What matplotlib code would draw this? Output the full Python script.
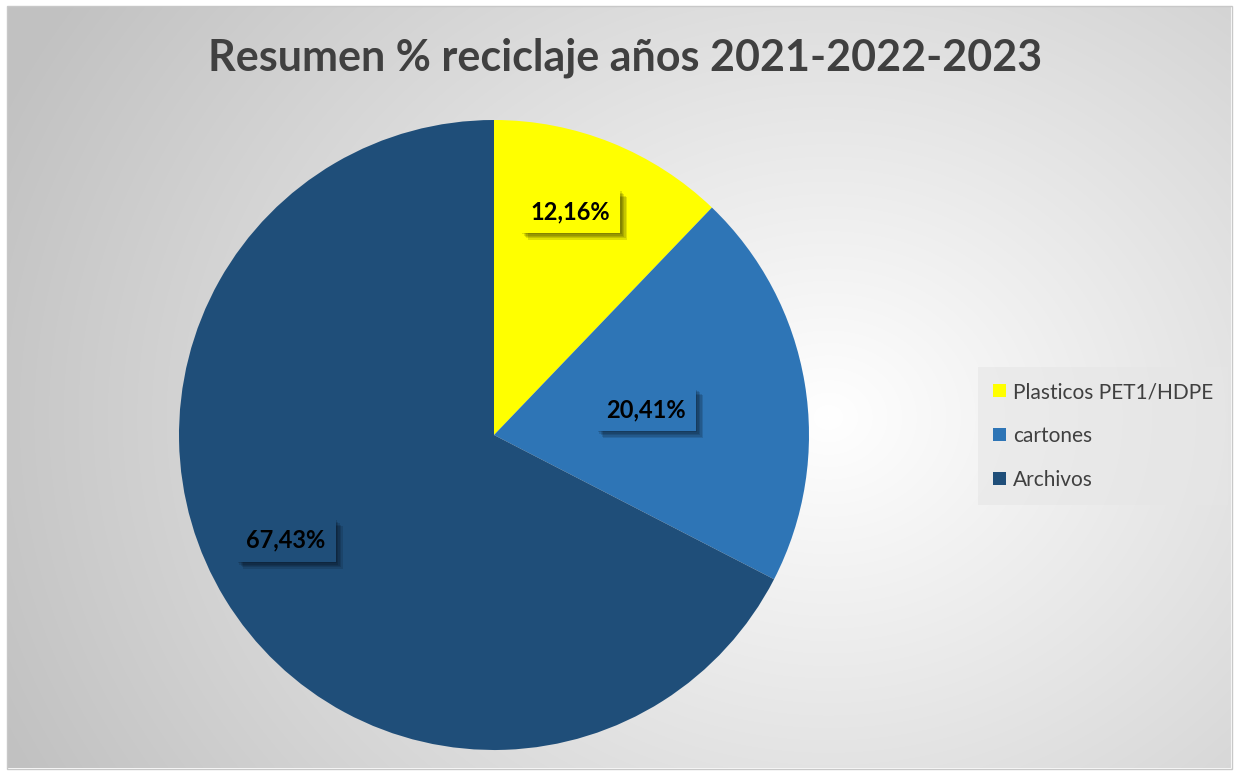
import numpy as np
import matplotlib.pyplot as plt
import matplotlib.patheffects as pe
from matplotlib.patches import Rectangle

# data
categories = ["Plasticos PET1/HDPE", "cartones", "Archivos"]
shares = [12.16, 20.41, 67.43]
labels = ["12,16%", "20,41%", "67,43%"]
colors = ["#FFFF00", "#2E75B6", "#1F4E79"]

W, H = 1238, 775
fig = plt.figure(figsize=(W / 100, H / 100), dpi=100)
fig.patch.set_facecolor("white")

# radial gradient background of the chart area
bg = fig.add_axes([8 / W, 7 / H, (1231 - 8) / W, (768 - 7) / H])
yy, xx = np.mgrid[0:761, 0:1223]
d = np.sqrt(((xx - 820) / 900.0) ** 2 + ((yy - 410) / 760.0) ** 2)
v = 1.0 - np.clip(d, 0, 1) * 0.24
v = np.clip(v, 0, 1)
bg.imshow(np.dstack([v, v, v]), aspect="auto", interpolation="bilinear")
bg.set_axis_off()
fig.patches.append(Rectangle((7 / W, 6 / H), (1232 - 7) / W, (769 - 6) / H,
                             transform=fig.transFigure, fill=False,
                             edgecolor="#c8c8c8", linewidth=1))

plt.rcParams['font.family'] = ['Lato', 'DejaVu Sans']

# pie
cx, cy, r = 494, 435, 315
ax = fig.add_axes([(cx - r) / W, (H - cy - r) / H, 2 * r / W, 2 * r / H])
wedges, _ = ax.pie(shares, colors=colors, startangle=90, counterclock=False,
                   radius=1.0, wedgeprops=dict(linewidth=0))
ax.set_xlim(-1, 1)
ax.set_ylim(-1, 1)
ax.set_aspect("equal")
ax.set_axis_off()

# data labels inside the slices, with soft drop shadow
label_r = [0.75, 0.49, 0.74]
label_shift = [3.0, 0.0, -4.5]
shadow = [pe.SimplePatchShadow(offset=(k, -k), shadow_rgbFace="black", alpha=0.12)
          for k in (1, 2, 3, 4, 5)] + [pe.Normal()]
start = 90.0
for i, s in enumerate(shares):
    mid = start - s * 3.6 / 2 + label_shift[i]
    start -= s * 3.6
    x = label_r[i] * np.cos(np.radians(mid))
    y = label_r[i] * np.sin(np.radians(mid))
    t = ax.text(x, y, labels[i], ha="center", va="center", fontsize=17,
                fontweight="bold", color="black",
                bbox=dict(boxstyle="square,pad=0.42", facecolor=colors[i],
                          edgecolor="none"))
    t.get_bbox_patch().set_path_effects(shadow)

# title
fig.text(625 / W, 1 - 58 / H, "Resumen % reciclaje años 2021-2022-2023",
         ha="center", va="center", fontsize=31, fontweight="bold", color="#404040")

# legend
lg = fig.legend(wedges, categories, loc="center left",
                bbox_to_anchor=(978 / W, 1 - 436 / H), frameon=True,
                fontsize=15, handlelength=0.62, handleheight=0.62,
                handletextpad=0.35, labelspacing=1.15, borderpad=0.7,
                borderaxespad=0, fancybox=False, labelcolor="#404040")
lg.get_frame().set_facecolor("#e6e6e6")
lg.get_frame().set_alpha(0.6)
lg.get_frame().set_edgecolor("none")

fig.savefig("out.png", dpi=100)
